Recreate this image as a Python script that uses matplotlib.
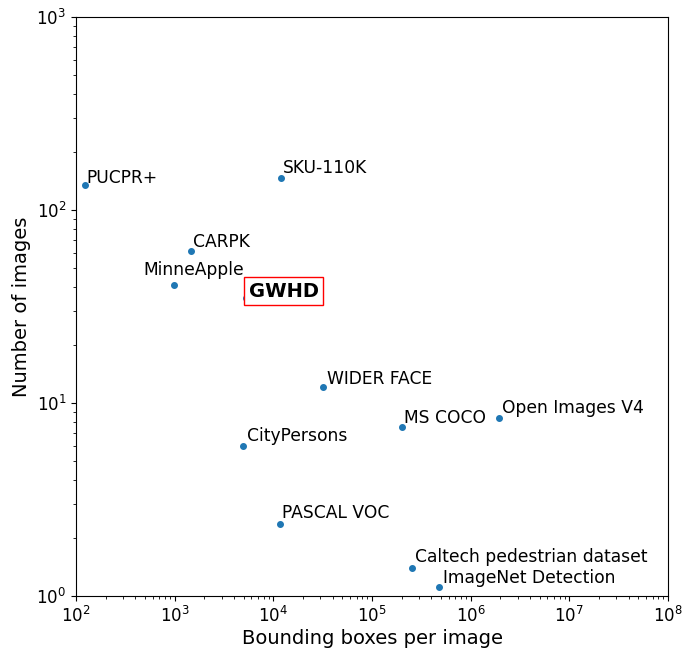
from matplotlib import pyplot as plt

names = ["PUCPR+", "SKU-110K", "CARPK", "MinneApple", "GWHD", "WIDER FACE",
         "MS COCO", "Open Images V4", "CityPersons", "PASCAL VOC",
         "Caltech pedestrian dataset", "ImageNet Detection"]
boxes_per_image = [123, 11900, 1450, 990, 5250, 32100,
                   200000, 1.94e6, 4970, 11700, 252000, 478000]
n_images = [135, 147, 61.3, 40.7, 35.1, 12.1,
            7.54, 8.33, 5.99, 2.37, 1.39, 1.12]
# label offsets in pixels
offsets = [(2, 2), (2, 5), (2, 4), (-31, 10), (3, 1), (4, 3),
           (2, 4), (3, 5), (4, 5), (2, 6), (3, 6), (4, 4)]

fig = plt.figure(figsize=(6.82, 6.48), dpi=100)
ax = fig.add_axes([76 / 682, 52 / 648, 592 / 682, 579 / 648])
ax.scatter(boxes_per_image, n_images, s=16, color="C0", zorder=3)
ax.set_xscale("log")
ax.set_yscale("log")
ax.set_xlim(1e2, 1e8)
ax.set_ylim(1e0, 1e3)

for name, x, y, off in zip(names, boxes_per_image, n_images, offsets):
    if name == "GWHD":
        ax.annotate(name, (x, y), xytext=off, textcoords="offset pixels",
                    fontsize=14, fontweight="bold",
                    bbox=dict(boxstyle="square,pad=0.22", fc="white", ec="red"))
    else:
        ax.annotate(name, (x, y), xytext=off, textcoords="offset pixels",
                    fontsize=12.3)

ax.tick_params(labelsize=12)
ax.set_xlabel("Bounding boxes per image", fontsize=14, labelpad=2)
ax.set_ylabel("Number of images", fontsize=14)
plt.savefig("out.png", dpi=100)
